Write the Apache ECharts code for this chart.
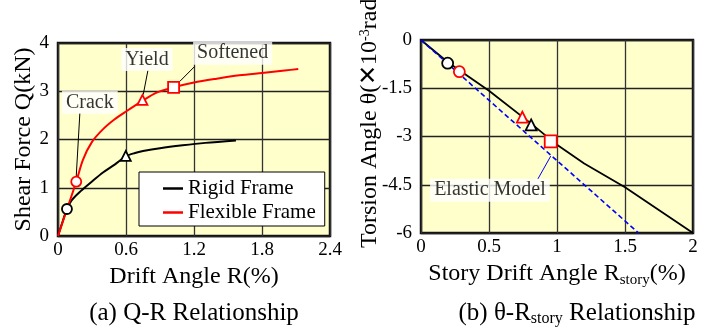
<!DOCTYPE html>
<html><head><meta charset="utf-8">
<script src="https://cdn.jsdelivr.net/npm/echarts@6/dist/echarts.min.js"></script>
<style>html,body{margin:0;padding:0;background:#fff}#c{width:719px;height:329px}</style>
</head><body><div id="c"></div>
<script>
// ---------- data (a) Q-R ----------
const qrTicksX = [0, 0.6, 1.2, 1.8, 2.4];
const qrTicksY = [0, 1, 2, 3, 4];
const rigidQR = [[0,0],[0.03,0.22],[0.079,0.56],[0.12,0.74],[0.2,0.93],[0.3,1.13],[0.4,1.32],[0.5,1.48],[0.598,1.65],[0.68,1.72],[0.75,1.76],[0.9,1.82],[1.1,1.88],[1.3,1.93],[1.57,1.98]];
const flexQR = [[0,0],[0.08,0.56],[0.161,1.125],[0.22,1.58],[0.3,1.95],[0.4,2.22],[0.5,2.42],[0.6,2.58],[0.745,2.80],[0.87,2.97],[1.02,3.08],[1.2,3.18],[1.4,3.26],[1.6,3.33],[1.8,3.38],[2.0,3.43],[2.12,3.46]];
const rigidQRMarks = [[0.079,0.56,'circle'],[0.598,1.66,'triangle']];
const flexQRMarks = [[0.161,1.125,'circle'],[0.745,2.82,'triangle'],[1.02,3.08,'rect']];
const qrNotes = [['Crack',0.281,2.77],['Yield',0.785,3.66],['Softened',1.541,3.79]];
const qrLeaders = [[[0.193,2.55],[0.161,1.24]],[[0.794,3.44],[0.752,2.93]],[[1.204,3.51],[1.073,3.20]]];
// ---------- data (b) theta-R ----------
const trTicksX = [0, 0.5, 1, 1.5, 2];
const trTicksY = [0, -1.5, -3, -4.5, -6];
const rigidTR = [[0,0],[0.2,-0.70],[0.5,-1.58],[0.81,-2.60],[1.0,-3.26],[1.2,-3.84],[1.5,-4.58],[2.0,-6.0]];
const elasticTR = [[0,0],[1.6,-6.0]];
const rigidTRMarks = [[0.196,-0.72,'circle'],[0.81,-2.64,'triangle']];
const flexTRMarks = [[0.282,-0.985,'circle'],[0.745,-2.40,'triangle'],[0.954,-3.15,'rect']];
const trNotes = [['Elastic Model',0.507,-4.67]];
const trLeaders = [[[0.858,-4.33],[0.954,-3.61]]];

const FONT = 'Liberation Serif';
const chart = echarts.init(document.getElementById('c'), null, {renderer:'canvas'});

function axisX(idx, min, max, interval, name) {
  return {
    type:'value', gridIndex: idx, min, max, interval,
    name, nameLocation:'middle', nameGap: 24,
    nameTextStyle:{fontFamily:FONT, fontSize:24, color:'#000',
      rich:{s:{fontFamily:FONT, fontSize:15, color:'#000', verticalAlign:'bottom', padding:[12,0,0,0]}}},
    axisLine:{show:false}, axisTick:{show:false},
    axisLabel:{fontFamily:FONT, fontSize:19, color:'#000', margin:5},
    splitLine:{show:true, lineStyle:{color:'#333', width:1.3}}
  };
}
function axisY(idx, min, max, interval, name) {
  return {
    type:'value', gridIndex: idx, min, max, interval,
    name, nameLocation:'middle', nameGap: 21,
    nameTextStyle:{fontFamily:FONT, fontSize:24, color:'#000'},
    axisLine:{show:false}, axisTick:{show:false},
    axisLabel:{fontFamily:FONT, fontSize:19, color:'#000', margin:9},
    splitLine:{show:true, lineStyle:{color:'#222', width:1.3}}
  };
}
function markSeries(xi, marks, color, size) {
  return {
    type:'scatter', xAxisIndex:xi, yAxisIndex:xi, z:5, silent:true,
    data: marks.map(m => ({value:[m[0],m[1]], symbol:m[2], symbolSize: m[2]==='rect' ? size+1 : size})),
    itemStyle:{color:'#fff', borderColor:color, borderWidth:1.8, opacity:1}
  };
}
function leaderSeries(xi, leaders, color) {
  return {
    type:'lines', coordinateSystem:'cartesian2d', xAxisIndex:xi, yAxisIndex:xi, z:4, silent:true,
    data: leaders.map(l => ({coords:l})),
    lineStyle:{color, width:1, opacity:1}
  };
}
function noteSeries(xi, notes) {
  return {
    type:'scatter', xAxisIndex:xi, yAxisIndex:xi, z:6, silent:true, symbolSize:0,
    data: notes.map(n => ({name:n[0], value:[n[1],n[2]]})),
    label:{show:true, position:'inside', formatter:'{b}', fontFamily:FONT, fontSize:20, color:'#000',
      backgroundColor:'#fff', padding:[2,4,1,4]}
  };
}

chart.setOption({
  animation:false,
  textStyle:{fontFamily:FONT},
  grid:[
    {left:58, top:43, width:272, height:193, show:true, backgroundColor:'#FFFFCC', borderColor:'#111', borderWidth:2.5},
    {left:421, top:40, width:272, height:193, show:true, backgroundColor:'#FFFFCC', borderColor:'#111', borderWidth:2.5}
  ],
  xAxis:[
    axisX(0, qrTicksX[0], qrTicksX[qrTicksX.length-1], qrTicksX[1]-qrTicksX[0], 'Drift Angle R(%)'),
    axisX(1, trTicksX[0], trTicksX[trTicksX.length-1], trTicksX[1]-trTicksX[0], 'Story Drift Angle R{s|story}(%)')
  ],
  yAxis:[
    axisY(0, qrTicksY[0], qrTicksY[qrTicksY.length-1], qrTicksY[1]-qrTicksY[0], 'Shear Force Q(kN)'),
    axisY(1, trTicksY[trTicksY.length-1], trTicksY[0], trTicksY[0]-trTicksY[1], '')
  ],
  legend:{
    left:139, top:172, orient:'vertical', padding:[6,9,3,24], itemGap:3,
    itemWidth:20, itemHeight:2.5, backgroundColor:'#fff', borderColor:'#000', borderWidth:1,
    textStyle:{fontFamily:FONT, fontSize:21, color:'#000'},
    data:[{name:'Rigid Frame', icon:'rect'},{name:'Flexible Frame', icon:'rect'}]
  },
  series:[
    {name:'Rigid Frame', type:'line', xAxisIndex:0, yAxisIndex:0, data:rigidQR, smooth:0.3, symbol:'none', z:3,
      lineStyle:{color:'#000', width:2}, itemStyle:{color:'#000'}},
    {name:'Flexible Frame', type:'line', xAxisIndex:0, yAxisIndex:0, data:flexQR, smooth:0.3, symbol:'none', z:3,
      lineStyle:{color:'#ff0000', width:2}, itemStyle:{color:'#ff0000'}},
    leaderSeries(0, qrLeaders, '#000'),
    markSeries(0, rigidQRMarks, '#000', 10),
    markSeries(0, flexQRMarks, '#ff0000', 10),
    noteSeries(0, qrNotes),
    {name:'rigidTR', type:'line', xAxisIndex:1, yAxisIndex:1, data:rigidTR, symbol:'none', z:3,
      lineStyle:{color:'#000', width:1.8}},
    {name:'elasticTR', type:'line', xAxisIndex:1, yAxisIndex:1, data:elasticTR, symbol:'none', z:3,
      lineStyle:{color:'#0000ff', width:1.6, type:[5,3]}},
    leaderSeries(1, trLeaders, '#0000ff'),
    markSeries(1, rigidTRMarks, '#000', 11),
    markSeries(1, flexTRMarks, '#ff0000', 11),
    noteSeries(1, trNotes)
  ],
  graphic:[
    {type:'text', x:370, y:248, rotation:Math.PI/2, z:10,
      style:{text:'Torsion Angle θ(✕10{sup|-3}rad)', fontFamily:FONT, fontSize:24, fill:'#000',
        align:'left', verticalAlign:'middle',
        rich:{sup:{fontFamily:FONT, fontSize:14, fill:'#000', verticalAlign:'top', padding:[0,0,10,0]}}}},
    {type:'text', x:194, y:313, z:10,
      style:{text:'(a) Q-R Relationship', fontFamily:FONT, fontSize:25, fill:'#000', align:'center', verticalAlign:'middle'}},
    {type:'text', x:577, y:313, z:10,
      style:{text:'(b) θ-R{s|story} Relationship', fontFamily:FONT, fontSize:25, fill:'#000', align:'center', verticalAlign:'middle',
        rich:{s:{fontFamily:FONT, fontSize:16, fill:'#000', verticalAlign:'bottom', padding:[12,0,0,0]}}}}
  ]
});
</script></body></html>
